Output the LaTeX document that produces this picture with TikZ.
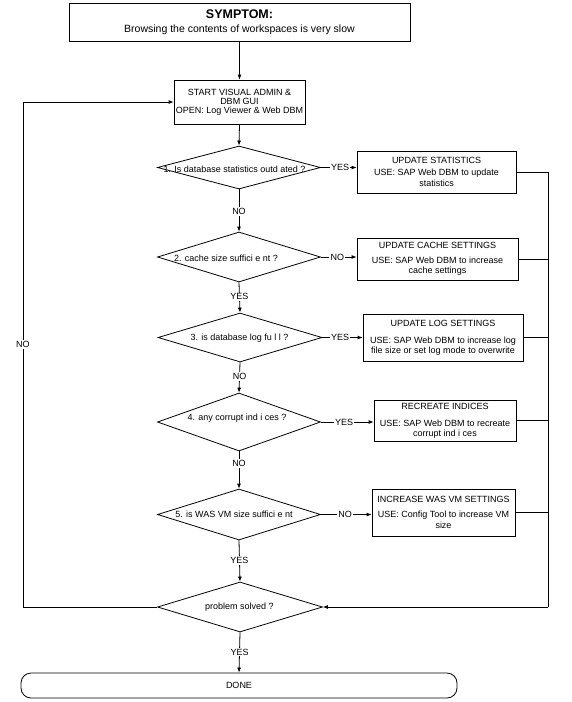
\documentclass[tikz,border=0pt]{standalone}
\usepackage{fontspec}
\setmainfont{Liberation Sans}
\usetikzlibrary{shapes.geometric,arrows.meta}
\begin{document}
\begin{tikzpicture}[x=1pt,y=-1pt,
  line width=0.8pt,
  box/.style={draw, rectangle, inner sep=0pt, align=center, font=\fontsize{9}{10}\selectfont},
  dia/.style={draw, diamond, inner sep=0pt},
  dtext/.style={font=\fontsize{9}{10}\selectfont, inner sep=0pt},
  lbl/.style={fill=white, inner sep=1.2pt, font=\fontsize{9}{10}\selectfont},
  arr/.style={-{Latex[length=5pt,width=4pt]}},
]
\useasboundingbox (0,0) rectangle (571,702);

% top box
\node[box, minimum width=341pt, minimum height=38pt, font=\fontsize{10.5}{12}\selectfont] (sym) at (239.5,22)
  {{\fontsize{12.5}{14}\selectfont\bfseries SYMPTOM:}\\[2pt] Browsing the contents of workspaces is very slow};

\node[box, minimum width=131pt, minimum height=44pt, font=\fontsize{9}{9}\selectfont] (start) at (239.5,102)
  {START VISUAL ADMIN \&\\DBM GUI\\OPEN: Log Viewer \& Web DBM};

% diamonds
\node[dia, minimum width=163pt, minimum height=43pt] (d1) at (239,167.5) {};
\node[dtext] (d1t) at (234.5,169) {1. Is database statistics outd ated ?};
\node[dia, minimum width=163pt, minimum height=50pt] (d2) at (239,257) {};
\node[dtext] (d2t) at (226,258) {2. cache size suffici e nt ?};
\node[dia, minimum width=164pt, minimum height=49pt] (d3) at (240,337.5) {};
\node[dtext] (d3t) at (239.5,338) {3. is database log fu l l ?};
\node[dia, minimum width=163pt, minimum height=58pt] (d4) at (239,422) {};
\node[dtext] (d4t) at (237,418.5) {4. any corrupt ind i ces ?};
\node[dia, minimum width=163pt, minimum height=51pt] (d5) at (239,514.5) {};
\node[dtext] (d5t) at (234,514) {5. is WAS VM size suffici e nt};
\node[dia, minimum width=165pt, minimum height=50pt] (d6) at (240,607) {};
\node[dtext] (d6t) at (239.5,607) {problem solved ?};

% action boxes
\node[box, minimum width=159pt, minimum height=42pt] (b1) at (436.5,172)
  {UPDATE STATISTICS\\[1.5pt]USE: SAP Web DBM to update\\[1pt]statistics};
\node[box, minimum width=161pt, minimum height=42pt] (b2) at (437.5,259)
  {UPDATE CACHE SETTINGS\\[5pt]USE: SAP Web DBM to increase\\cache settings};
\node[box, minimum width=160pt, minimum height=47pt] (b3) at (443,337.5)
  {UPDATE LOG SETTINGS\\[7pt]USE: SAP Web DBM to increase log\\file size or set log mode to overwrite};
\node[box, minimum width=142pt, minimum height=41pt] (b4) at (445,420.5)
  {RECREATE INDICES\\[7pt]USE: SAP Web DBM to recreate\\corrupt ind i ces};
\node[box, minimum width=143pt, minimum height=47pt] (b5) at (443.5,512.5)
  {INCREASE WAS VM SETTINGS\\[5pt]USE: Config Tool to increase VM\\[1pt]size};

% done
\node[draw, rectangle, rounded corners=10pt, minimum width=436pt, minimum height=25pt,
  inner sep=0pt, font=\fontsize{9}{10}\selectfont] (done) at (239,685.5) {DONE};

% vertical flow
\draw[arr] (sym.south) -- (start.north);
\draw[arr] (start.south) -- (d1.north);
\draw[arr] (d1.south) -- node[lbl, pos=0.53]{NO} (d2.north);
\draw[arr] (d2.south) -- node[lbl, pos=0.48]{YES} (d3.north);
\draw[arr] (d3.south) -- node[lbl, pos=0.47]{NO} (d4.north);
\draw[arr] (d4.south) -- node[lbl, pos=0.32]{NO} (d5.north);
\draw[arr] (d5.south) -- node[lbl, pos=0.48]{YES} (d6.north);
\draw[arr] (d6.south) -- node[lbl, pos=0.49]{YES} (done.north);

% horizontal branches
\draw[arr] (d1.east) -- node[lbl, pos=0.54]{YES} (d1.east -| b1.west);
\draw[arr] (d2.east) -- node[lbl, pos=0.46]{NO} (d2.east -| b2.west);
\draw[arr] (d3.east) -- node[lbl, pos=0.44]{YES} (d3.east -| b3.west);
\draw[arr] (d4.east) -- node[lbl, pos=0.44]{YES} (d4.east -| b4.west);
\draw[arr] (d5.east) -- node[lbl, pos=0.48]{NO} (d5.east -| b5.west);

% right return line
\coordinate (rc) at (548,607);
\draw (b1.east) -- (b1.east -| rc) -- (rc);
\draw[arr] (rc) -- (d6.east);
\draw (b2.east) -- (b2.east -| rc);
\draw (b3.east) -- (b3.east -| rc);
\draw (b4.east) -- (b4.east -| rc);
\draw (b5.east) -- (b5.east -| rc);

% left loop
\coordinate (lc) at (23,607);
\draw[arr] (d6.west) -- (lc) -- node[lbl, pos=0.52]{NO} (lc |- start.west) -- (start.west);
\end{tikzpicture}
\end{document}
